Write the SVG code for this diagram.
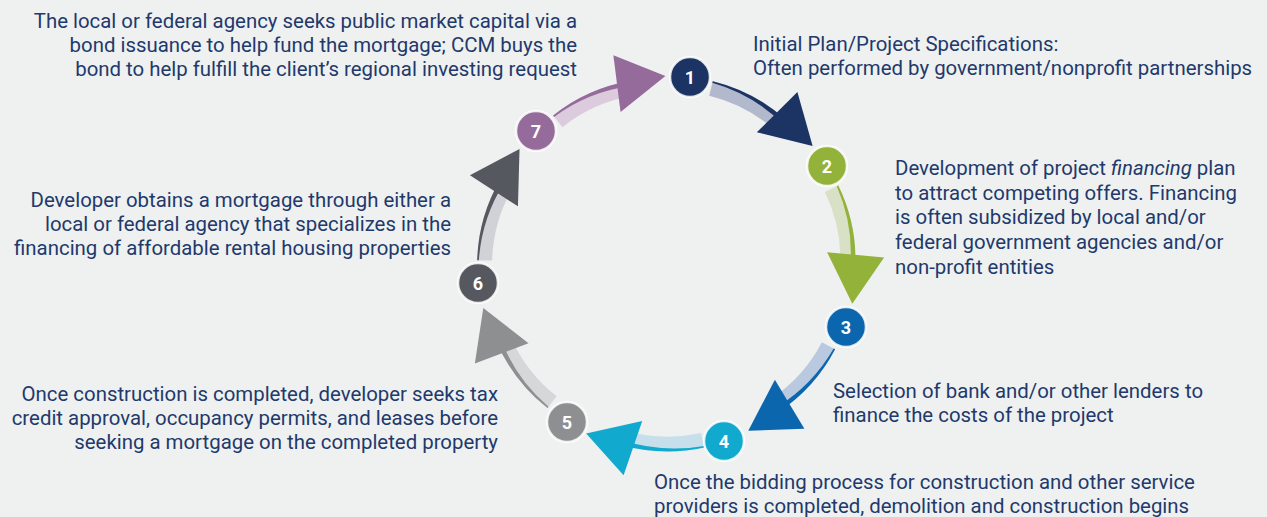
<svg xmlns="http://www.w3.org/2000/svg" xmlns:xlink="http://www.w3.org/1999/xlink" width="1267" height="517" viewBox="0 0 1267 517">
<style>
.bg{fill:#eff1f1}
.t{font-family:Roboto,"Liberation Sans",sans-serif;font-size:20.4px;fill:#22396b}
.r{text-anchor:end}
.n circle{stroke:#ffffff;stroke-width:2.5;stroke-opacity:0.85}
.n text{font-family:Roboto,"Liberation Sans",sans-serif;font-size:18px;font-weight:bold;fill:#ffffff;text-anchor:middle}
</style>
<defs>
<path id="band" d="M-60.3,-8.9 A170,170 0 0 1 23.1,-16.2 L20.6,-1.4 A155,155 0 0 0 -55.4,5.2 Z"/>
<path id="edge" d="M-60.3,-8.9 A170,170 0 0 1 23.1,-16.2 L22.3,-11.2 A166.5,166.5 0 0 0 -59.8,-7.3 Z"/>
<polygon id="head" points="58.7,-9 16.5,-46 4.5,10"/>
</defs>
<rect class="bg" x="0" y="0" width="1267" height="517"/>

<g id="connectors">
<g id="arrow-1-2" transform="translate(758.5,121.5) rotate(33)"><use href="#band" fill="#b3b9cd"/><use href="#edge" fill="#1b3463"/><use href="#head" fill="#1b3463"/></g>
<g id="arrow-2-3" transform="translate(836.5,246.5) rotate(83.3)"><use href="#band" fill="#d8e0c6"/><use href="#edge" fill="#93b23a"/><use href="#head" fill="#93b23a"/></g>
<g id="arrow-3-4" transform="translate(785,384) rotate(136.9)"><use href="#band" fill="#b9c9e0"/><use href="#edge" fill="#0b66ae"/><use href="#head" fill="#0b66ae"/></g>
<g id="arrow-4-5" transform="translate(645.5,431.5) rotate(186.9)"><use href="#band" fill="#c6dfea"/><use href="#edge" fill="#12a9cf"/><use href="#head" fill="#12a9cf"/></g>
<g id="arrow-5-6" transform="translate(522.5,352.5) rotate(237.4)"><use href="#band" fill="#d6d7d8"/><use href="#edge" fill="#8e8f91"/><use href="#head" fill="#8e8f91"/></g>
<g id="arrow-6-7" transform="translate(507,207) rotate(290.9)"><use href="#band" fill="#d0d2d7"/><use href="#edge" fill="#56585f"/><use href="#head" fill="#56585f"/></g>
<g id="arrow-7-1" transform="translate(613,104) rotate(-19.3)"><use href="#band" fill="#dccbdc"/><use href="#edge" fill="#956b9b"/><use href="#head" fill="#956b9b"/></g>
</g>

<g id="node-1" class="n"><circle cx="690" cy="77" r="20" fill="#1b3463"/><text x="690" y="83.5">1</text></g>
<g id="node-2" class="n"><circle cx="827" cy="166" r="20" fill="#93b23a"/><text x="827" y="172.5">2</text></g>
<g id="node-3" class="n"><circle cx="846" cy="327" r="20" fill="#0b66ae"/><text x="846" y="333.5">3</text></g>
<g id="node-4" class="n"><circle cx="724" cy="441" r="20" fill="#12a9cf"/><text x="724" y="447.5">4</text></g>
<g id="node-5" class="n"><circle cx="567" cy="422" r="20" fill="#8e8f91"/><text x="567" y="428.5">5</text></g>
<g id="node-6" class="n"><circle cx="478" cy="283" r="20" fill="#56585f"/><text x="478" y="289.5">6</text></g>
<g id="node-7" class="n"><circle cx="536" cy="131" r="20" fill="#956b9b"/><text x="536" y="137.5">7</text></g>

<g id="label-7" class="t r">
<text x="577" y="28">The local or federal agency seeks public market capital via a</text>
<text x="577" y="52">bond issuance to help fund the mortgage; CCM buys the</text>
<text x="577" y="76">bond to help fulfill the client’s regional investing request</text>
</g>
<g id="label-1" class="t">
<text x="753" y="51">Initial Plan/Project Specifications:</text>
<text x="753" y="75">Often performed by government/nonprofit partnerships</text>
</g>
<g id="label-2" class="t">
<text x="895" y="175">Development of project <tspan font-style="italic">financing</tspan> plan</text>
<text x="895" y="200">to attract competing offers. Financing</text>
<text x="895" y="224">is often subsidized by local and/or</text>
<text x="895" y="249">federal government agencies and/or</text>
<text x="895" y="274">non-profit entities</text>
</g>
<g id="label-3" class="t">
<text x="833" y="398">Selection of bank and/or other lenders to</text>
<text x="833" y="422">finance the costs of the project</text>
</g>
<g id="label-4" class="t">
<text x="654" y="489">Once the bidding process for construction and other service</text>
<text x="654" y="513">providers is completed, demolition and construction begins</text>
</g>
<g id="label-5" class="t r">
<text x="498" y="401">Once construction is completed, developer seeks tax</text>
<text x="498" y="425">credit approval, occupancy permits, and leases before</text>
<text x="498" y="449">seeking a mortgage on the completed property</text>
</g>
<g id="label-6" class="t r">
<text x="451" y="207">Developer obtains a mortgage through either a</text>
<text x="451" y="231">local or federal agency that specializes in the</text>
<text x="451" y="255">financing of affordable rental housing properties</text>
</g>
</svg>
